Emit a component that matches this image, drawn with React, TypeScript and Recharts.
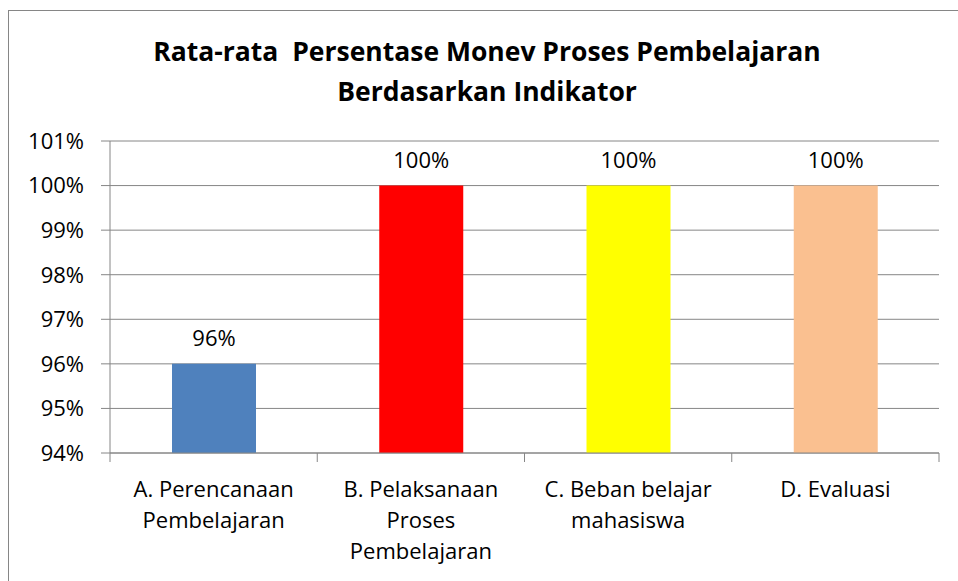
import { Bar, BarChart, CartesianGrid, Cell, LabelList, XAxis, YAxis } from "recharts";

const categories = [
  "A. Perencanaan Pembelajaran",
  "B. Pelaksanaan Proses Pembelajaran",
  "C. Beban belajar mahasiswa",
  "D. Evaluasi",
];
const categoryLines = [
  ["A. Perencanaan", "Pembelajaran"],
  ["B. Pelaksanaan", "Proses", "Pembelajaran"],
  ["C. Beban belajar", "mahasiswa"],
  ["D. Evaluasi"],
];
const percentages = [96, 100, 100, 100];
const barColors = ["#4F81BD", "#FF0000", "#FFFF00", "#FAC090"];
const yTicks = [94, 95, 96, 97, 98, 99, 100, 101];

const data = categories.map((name, i) => ({ name, value: percentages[i] }));

const FONT = "'Open Sans', sans-serif";
const GRAY = "#868686";
const PLOT_LEFT = 110;
const PLOT_RIGHT = 939;
const BAND = (PLOT_RIGHT - PLOT_LEFT) / categories.length;

function CategoryTick(props: any) {
  const { x, y, index } = props;
  const lines = categoryLines[index] || [];
  return (
    <g>
      <line x1={x - BAND / 2} x2={x - BAND / 2} y1={y} y2={y + 9} stroke={GRAY} />
      {index === categories.length - 1 && (
        <line x1={x + BAND / 2} x2={x + BAND / 2} y1={y} y2={y + 9} stroke={GRAY} />
      )}
      <text x={x} y={y + 44} textAnchor="middle" fontSize={22} fill="#000" fontFamily={FONT}>
        {lines.map((l: string, i: number) => (
          <tspan key={i} x={x} dy={i === 0 ? 0 : 31}>
            {l}
          </tspan>
        ))}
      </text>
    </g>
  );
}

export default function App() {
  return (
    <div style={{ position: "relative", width: 958, height: 581, fontFamily: FONT }}>
      <style>{`body{margin:0;overflow:hidden}`}</style>
      <div
        style={{
          position: "absolute",
          left: 8,
          top: 10,
          width: 980,
          height: 600,
          border: `1px solid ${GRAY}`,
        }}
      />
      <div
        style={{
          position: "absolute",
          left: 0,
          top: 31,
          width: 974,
          textAlign: "center",
          fontWeight: 700,
          fontSize: 26.5,
          lineHeight: "40px",
          color: "#000",
          whiteSpace: "pre",
        }}
      >
        {"Rata-rata  Persentase Monev Proses Pembelajaran\nBerdasarkan Indikator"}
      </div>
      <div style={{ position: "absolute", left: 0, top: 0 }}>
        <BarChart
          width={958}
          height={581}
          data={data}
          margin={{ top: 141, right: 958 - PLOT_RIGHT, left: PLOT_LEFT - 100, bottom: 8 }}
          barSize={84}
        >
          <CartesianGrid vertical={false} stroke={GRAY} />
          <XAxis
            dataKey="name"
            height={120}
            interval={0}
            axisLine={{ stroke: GRAY }}
            tickLine={false}
            tickSize={0}
            tickMargin={0}
            tick={<CategoryTick />}
          />
          <YAxis
            width={100}
            domain={[94, 101]}
            ticks={yTicks}
            tickFormatter={(v) => `${v}%`}
            axisLine={{ stroke: GRAY }}
            tickLine={{ stroke: GRAY }}
            tickSize={9}
            tickMargin={17}
            tick={{ fontSize: 22, fill: "#000", fontFamily: FONT }}
            allowDataOverflow
          />
          <Bar dataKey="value" isAnimationActive={false}>
            {data.map((d, i) => (
              <Cell key={d.name} fill={barColors[i]} />
            ))}
            <LabelList
              dataKey="value"
              position="top"
              offset={18}
              formatter={(v: any) => `${v}%`}
              style={{ fontSize: 22, fill: "#000", fontFamily: FONT }}
            />
          </Bar>
        </BarChart>
      </div>
    </div>
  );
}
